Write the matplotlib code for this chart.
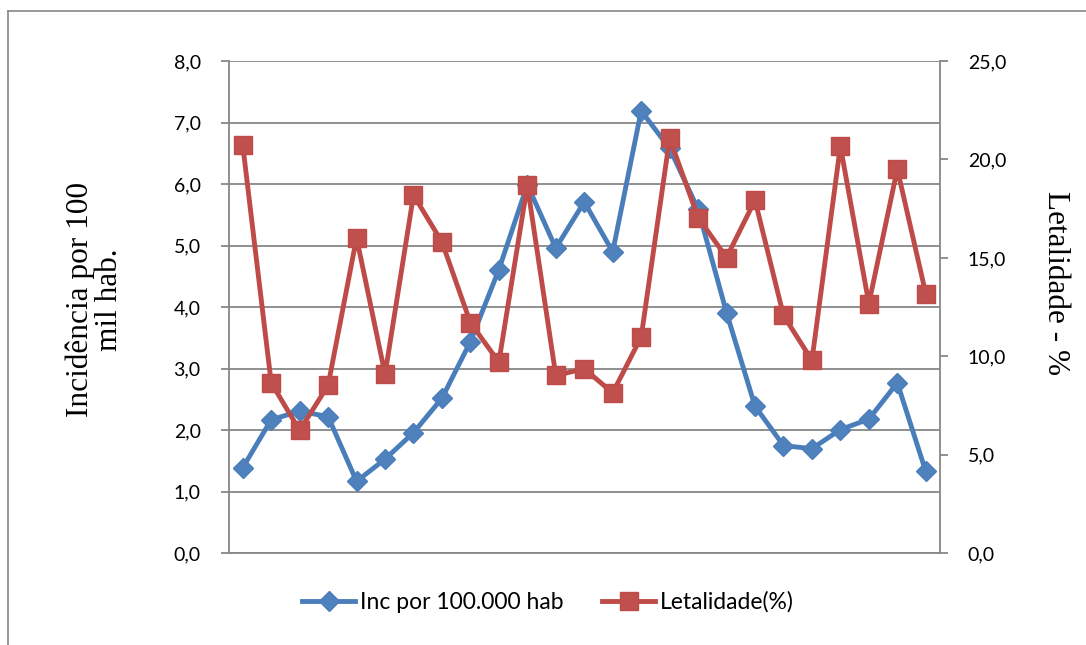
import matplotlib
matplotlib.use("Agg")
import matplotlib.pyplot as plt
from matplotlib.lines import Line2D
from matplotlib.ticker import FuncFormatter

# Data
periods = list(range(1, 26))
incidencia = [1.39, 2.17, 2.31, 2.22, 1.17, 1.53, 1.96, 2.52, 3.44, 4.61,
              5.99, 4.96, 5.71, 4.90, 7.19, 6.58, 5.59, 3.91, 2.39, 1.75,
              1.70, 2.01, 2.18, 2.77, 1.33]
letalidade = [20.73, 8.66, 6.24, 8.53, 16.02, 9.09, 18.19, 15.81, 11.71, 9.71,
              18.69, 9.03, 9.37, 8.15, 10.98, 21.07, 17.05, 15.02, 17.93, 12.08,
              9.80, 20.68, 12.68, 19.51, 13.19]
left_ticks = [0, 1, 2, 3, 4, 5, 6, 7, 8]
right_ticks = [0, 5, 10, 15, 20, 25]
label_inc = "Inc por 100.000 hab"
label_let = "Letalidade(%)"
left_title = "Incidência por 100\nmil hab."
right_title = "Letalidade - %"

GRAY = "#878787"
SANS = ["Lato", "DejaVu Sans"]
SERIF = ["Liberation Serif", "DejaVu Serif"]

fig = plt.figure(figsize=(10.86, 6.45), dpi=100)
ax = fig.add_axes([228.5 / 1086, (645 - 553.3) / 645, (940 - 228.5) / 1086, (553.3 - 61) / 645])
ax2 = ax.twinx()

fmt = FuncFormatter(lambda v, p: f"{v:.1f}".replace(".", ","))

ax.set_xlim(0.5, 25.5)
ax.set_ylim(0, 8)
ax.set_yticks(left_ticks)
ax.yaxis.set_major_formatter(fmt)
ax.grid(axis="y", color=GRAY, linewidth=1.3)
ax.set_axisbelow(True)
ax.set_xticks([])
ax2.set_ylim(0, 25)
ax2.set_yticks(right_ticks)
ax2.yaxis.set_major_formatter(fmt)

for a in (ax, ax2):
    for s in a.spines.values():
        s.set_color(GRAY)
        s.set_linewidth(1.3)
    a.spines["top"].set_visible(False)
ax.spines["right"].set_visible(False)
ax2.spines["left"].set_visible(False)
ax2.spines["bottom"].set_visible(False)

ax.tick_params(axis="y", direction="out", length=6, width=1.3, color=GRAY,
               labelsize=14, pad=14)
ax2.tick_params(axis="y", direction="out", length=6, width=1.3, color=GRAY,
                labelsize=14, pad=14)
for lbl in ax.get_yticklabels() + ax2.get_yticklabels():
    lbl.set_fontfamily(SANS)

l1, = ax.plot(periods, incidencia, color="#4A7EBB", linewidth=3.5, marker="D",
              markersize=10, markerfacecolor="#4F81BD", markeredgecolor="#4A7EBB",
              zorder=3, label=label_inc)
l2, = ax2.plot(periods, letalidade, color="#BE4B48", linewidth=3.5, marker="s",
               markersize=13, markerfacecolor="#C0504D", markeredgecolor="#BE4B48",
               zorder=3, label=label_let)

fig.text(95 / 1086, 1 - 300 / 645, left_title, family=SERIF, fontsize=22.5,
         rotation=90, ha="center", va="center", multialignment="center",
         linespacing=1.0)
fig.text(1055 / 1086, 1 - 283 / 645, right_title, family=SERIF, fontsize=22.5,
         rotation=270, ha="center", va="center")

fig.legend([l1, l2], [label_inc, label_let], loc="center",
           bbox_to_anchor=(548 / 1086, 1 - 602 / 645), ncol=2, frameon=False,
           prop={"family": SANS, "size": 16.5}, handlelength=2.3,
           handletextpad=0.2, columnspacing=1.7)

# outer chart frame (cropped at right and bottom in the reference)
fig.add_artist(Line2D([8 / 1086, 1.01], [1 - 11 / 645, 1 - 11 / 645],
                      transform=fig.transFigure, color="#888888", linewidth=1.2))
fig.add_artist(Line2D([8 / 1086, 8 / 1086], [1 - 11 / 645, -0.01],
                      transform=fig.transFigure, color="#888888", linewidth=1.2))

fig.savefig("out.png", dpi=100)
